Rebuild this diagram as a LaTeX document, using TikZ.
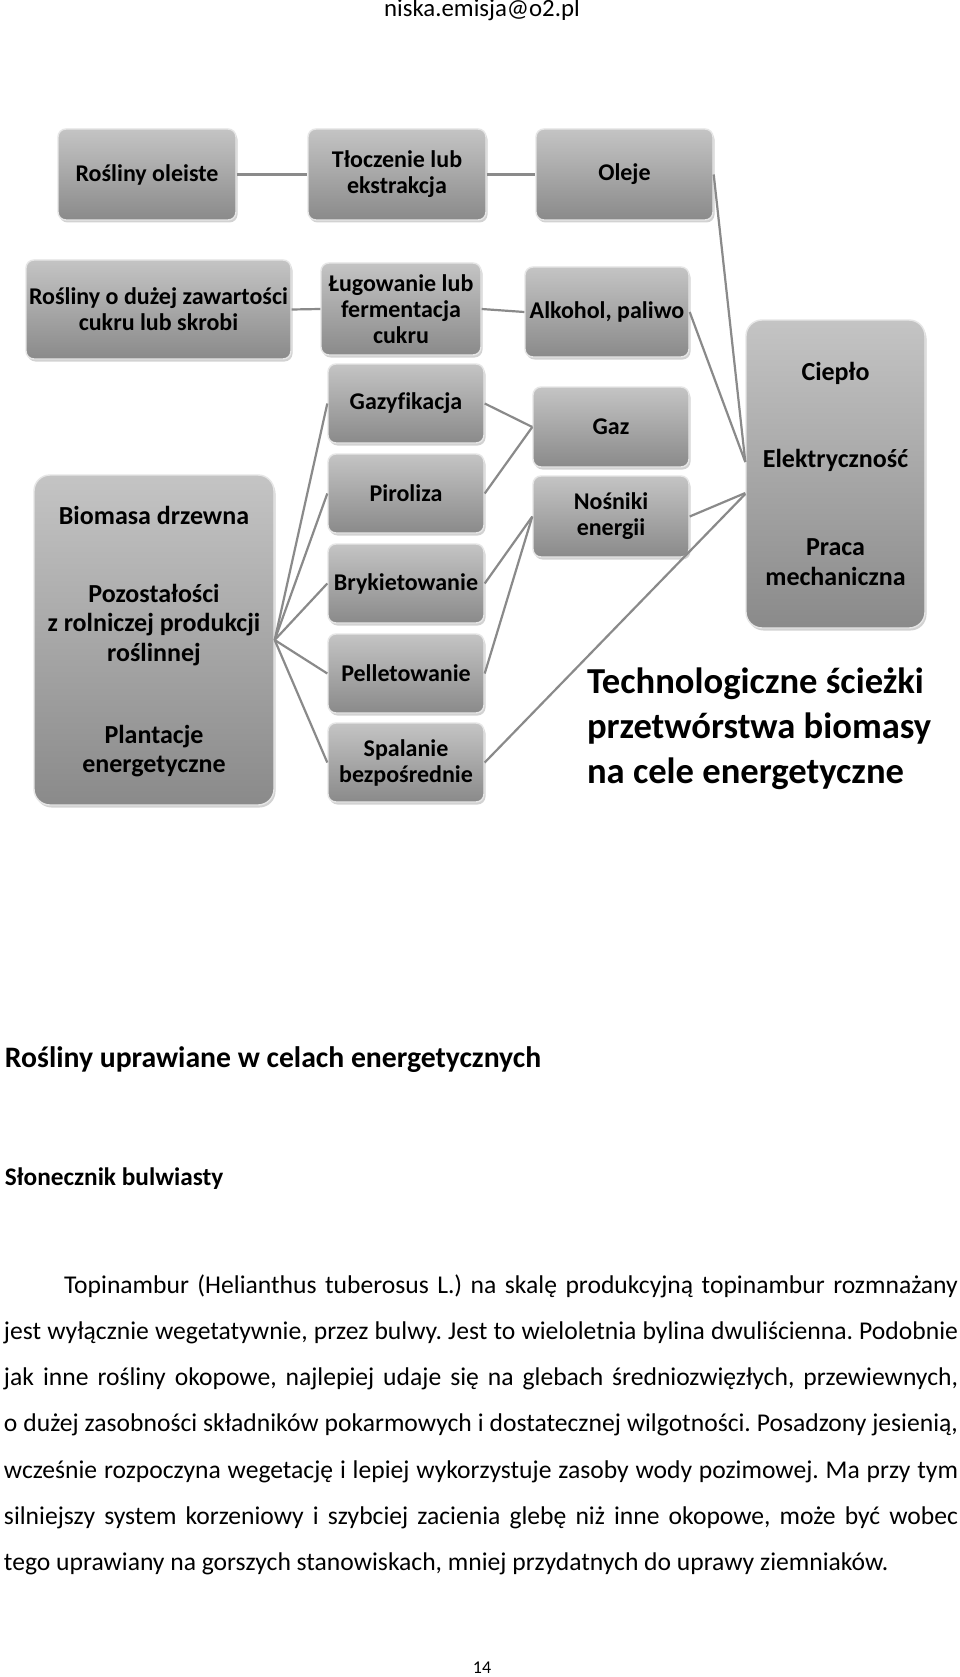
\documentclass[tikz,border=0pt]{standalone}
\usepackage{fontspec}
\setmainfont{Carlito}[Ligatures=NoCommon]
\usetikzlibrary{shadows}
\definecolor{boxtop}{HTML}{C4C4C4}
\definecolor{boxbot}{HTML}{8A8A8A}
\definecolor{connc}{HTML}{8A8A8A}
\definecolor{boxedge}{HTML}{E6E6E6}
\newcommand\bxfont{\fontsize{24}{26}\selectfont\bfseries}
\newcommand\bigfont{\fontsize{26}{29.5}\selectfont\bfseries}
\newcommand\bodyfont{\fontsize{25.6}{30}\selectfont}
\frenchspacing
\tikzset{
  gbox/.style={rectangle, rounded corners=8pt, top color=boxtop, bottom color=boxbot,
    draw=boxedge, line width=1.4pt,
    drop shadow={shadow xshift=1.5pt, shadow yshift=-2.5pt, opacity=0.35},
    align=center, font=\bxfont, inner sep=2pt},
  conn/.style={draw=connc, line width=2.2pt},
  txt/.style={inner sep=0pt, outer sep=0pt},
  bigtxt/.style={inner sep=0pt, align=center, font=\bigfont},
}
\begin{document}
\begin{tikzpicture}[x=1pt, y=-1pt]
\useasboundingbox (0,0) rectangle (960,1677);
\fill[white] (0,0) rectangle (960,1677);

% header
\node[txt, anchor=base] (hdr) at (482,17) {\fontsize{24.8}{28}\selectfont niska.emisja@o2.pl};

% boxes
\node[gbox, minimum width=178pt, minimum height=91pt] (oleiste) at (147,174.5) {Rośliny oleiste};
\node[gbox, minimum width=178pt, minimum height=91pt] (tlocz) at (397,174.5) {Tłoczenie lub\\ekstrakcja};
\node[gbox, minimum width=177pt, minimum height=91pt] (oleje) at (624.5,174.5) {Oleje};

\node[gbox, minimum width=265pt, minimum height=99pt] (cukier) at (158.5,309.5) {Rośliny o dużej zawartości\\cukru lub skrobi};
\node[gbox, minimum width=160pt, minimum height=92pt] (lug) at (401,309) {Ługowanie lub\\fermentacja\\cukru};
\node[gbox, minimum width=164pt, minimum height=90pt] (alk) at (607,312) {Alkohol, paliwo};

\node[gbox, minimum width=156pt, minimum height=79pt] (gazyf) at (406,403.5) {Gazyfikacja};
\node[gbox, minimum width=156pt, minimum height=79pt] (pirol) at (406,493.5) {Piroliza};
\node[gbox, minimum width=156pt, minimum height=79pt] (bryk) at (406,583.5) {Brykietowanie};
\node[gbox, minimum width=156pt, minimum height=79pt] (pellet) at (406,673.5) {Pelletowanie};
\node[gbox, minimum width=156pt, minimum height=79pt] (spal) at (406,762.5) {Spalanie\\bezpośrednie};

\node[gbox, minimum width=156pt, minimum height=80pt] (gaz) at (611,427) {Gaz};
\node[gbox, minimum width=156pt, minimum height=81pt] (nosn) at (611,516.5) {Nośniki\\energii};

\node[gbox, rounded corners=16pt, minimum width=240pt, minimum height=330pt] (biomasa) at (154,640) {};
\node[gbox, rounded corners=16pt, minimum width=179pt, minimum height=308pt] (cieplo) at (835.5,474) {};

% big box texts
\node[bigtxt] (bt1) at (154,515) {Biomasa drzewna};
\node[bigtxt] (bt2) at (154,625) {Pozostałości\\z rolniczej produkcji\\roślinnej};
\node[bigtxt] (bt3) at (154,751) {Plantacje\\energetyczne};
\node[bigtxt] (ct1) at (835.5,373) {Ciepło};
\node[bigtxt] (ct2) at (835.5,460) {Elektryczność};
\node[bigtxt] (ct3) at (835.5,562) {Praca\\mechaniczna};

% connectors
\draw[conn] (oleiste.east) -- (tlocz.west);
\draw[conn] (tlocz.east) -- (oleje.west);
\draw[conn] (cukier.east) -- (lug.west);
\draw[conn] (lug.east) -- (alk.west);
\draw[conn] (oleje.east) -- ([yshift=12pt]cieplo.west);
\draw[conn] (alk.east) -- ([yshift=12pt]cieplo.west);
\foreach \p in {gazyf,pirol,bryk,pellet,spal}
  \draw[conn] (biomasa.east) -- (\p.west);
\draw[conn] (gazyf.east) -- (gaz.west);
\draw[conn] (pirol.east) -- (gaz.west);
\draw[conn] (bryk.east) -- (nosn.west);
\draw[conn] (pellet.east) -- (nosn.west);
\draw[conn] (nosn.east) -- ([yshift=-19pt]cieplo.west);
\draw[conn] (spal.east) -- ([yshift=-20pt]cieplo.west);

% title
\node[txt, anchor=base west] (ti1) at (587,693) {\fontsize{36.6}{45}\selectfont\bfseries Technologiczne ścieżki};
\node[txt, anchor=base west] (ti2) at (587,738) {\fontsize{36.6}{45}\selectfont\bfseries przetwórstwa biomasy};
\node[txt, anchor=base west] (ti3) at (587,783) {\fontsize{36.6}{45}\selectfont\bfseries na cele energetyczne};

% text section
\node[txt, anchor=base west] (h1) at (5,1067) {\fontsize{29.7}{34}\selectfont\bfseries Rośliny uprawiane w celach energetycznych};
\node[txt, anchor=base west] (h2) at (5,1185) {\fontsize{25.3}{30}\selectfont\bfseries Słonecznik bulwiasty};

\node[txt, anchor=base west] (l1) at (64,1293) {\bodyfont\makebox[894pt][s]{Topinambur (Helianthus tuberosus L.) na skalę produkcyjną topinambur rozmnażany}};
\node[txt, anchor=base west] (l2) at (4,1339.3) {\bodyfont\makebox[954pt][s]{jest wyłącznie wegetatywnie, przez bulwy. Jest to wieloletnia bylina dwuliścienna. Podobnie}};
\node[txt, anchor=base west] (l3) at (4,1385.6) {\bodyfont\makebox[954pt][s]{jak inne rośliny okopowe, najlepiej udaje się na glebach średniozwięzłych, przewiewnych,}};
\node[txt, anchor=base west] (l4) at (4,1431.9) {\bodyfont\makebox[954pt][s]{o dużej zasobności składników pokarmowych i dostatecznej wilgotności. Posadzony jesienią,}};
\node[txt, anchor=base west] (l5) at (4,1478.2) {\bodyfont\makebox[954pt][s]{wcześnie rozpoczyna wegetację i lepiej wykorzystuje zasoby wody pozimowej. Ma przy tym}};
\node[txt, anchor=base west] (l6) at (4,1524.5) {\bodyfont\makebox[954pt][s]{silniejszy system korzeniowy i szybciej zacienia glebę niż inne okopowe, może być wobec}};
\node[txt, anchor=base west] (l7) at (4,1570.8) {\bodyfont tego uprawiany na gorszych stanowiskach, mniej przydatnych do uprawy ziemniaków.};

\node[txt, anchor=base] (pg) at (482,1673) {\fontsize{18}{20}\selectfont 14};
\end{tikzpicture}
\end{document}
